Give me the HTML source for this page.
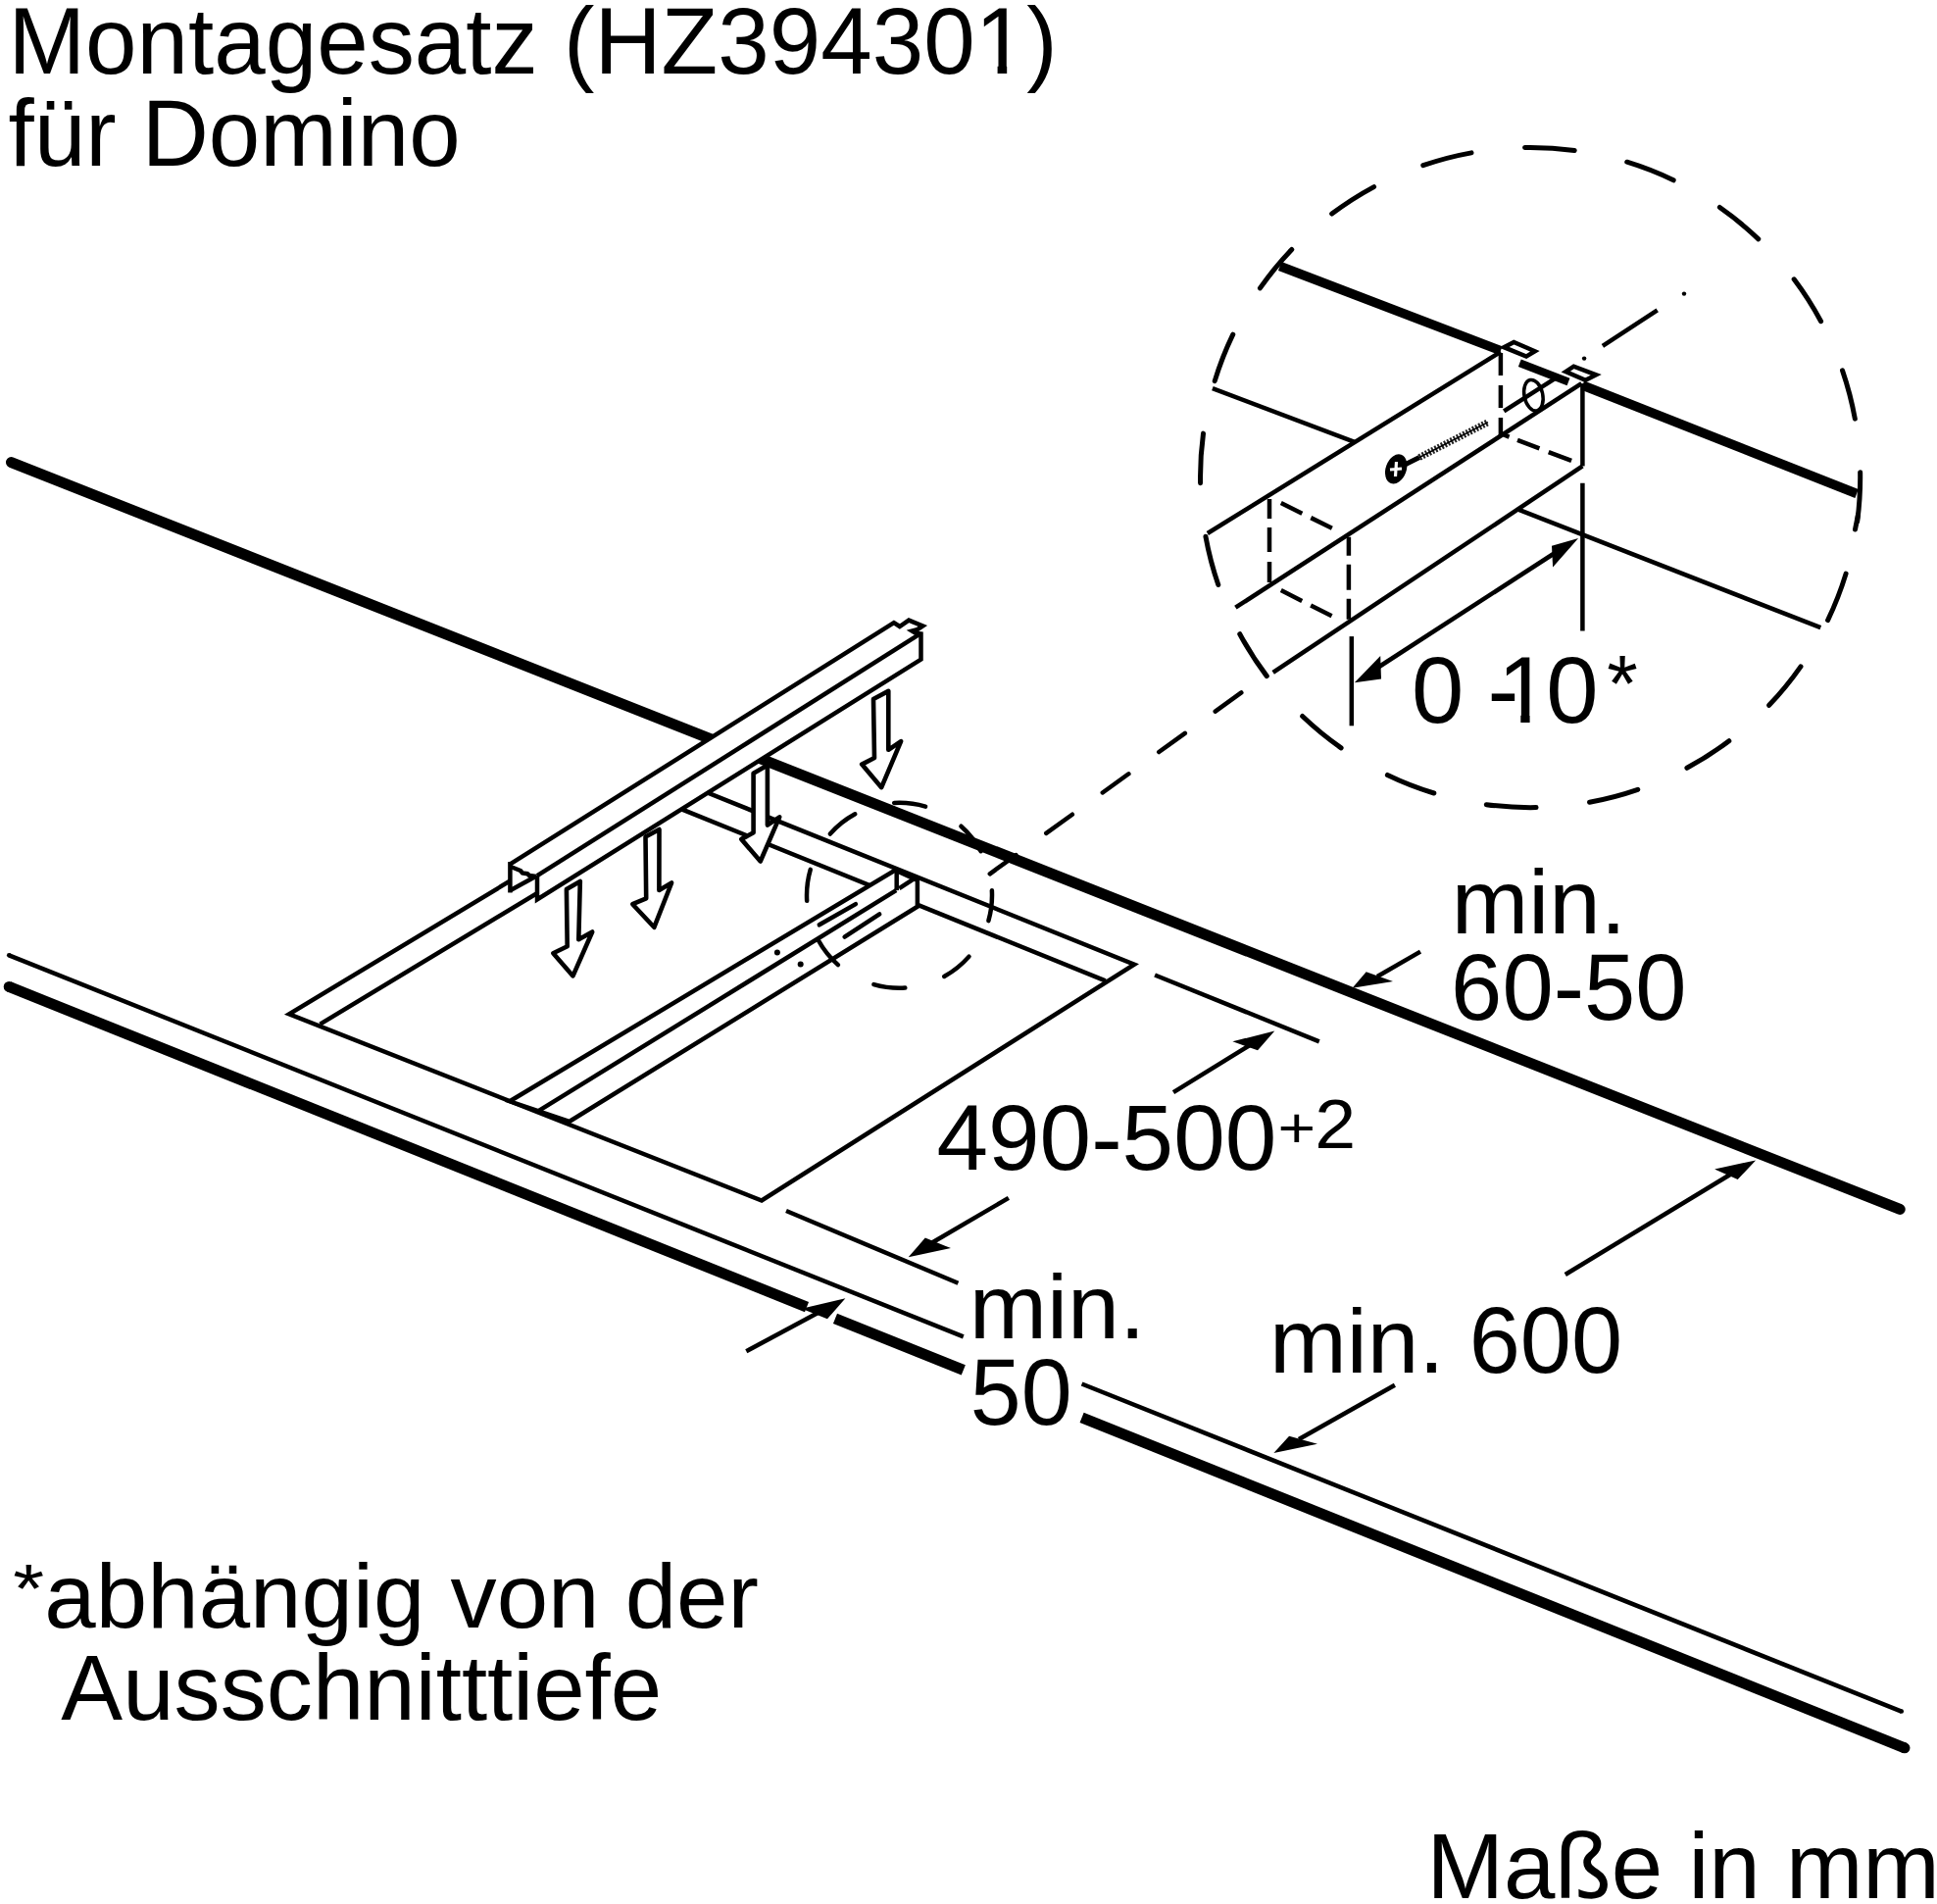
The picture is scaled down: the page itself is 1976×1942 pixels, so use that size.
<!DOCTYPE html>
<html><head><meta charset="utf-8"><style>
html,body{margin:0;padding:0;background:#fff;}
svg{display:block;}
</style></head><body><div id="wrap">
<svg width="1976" height="1942" viewBox="0 0 1976 1942" style="font-family:'Liberation Sans',sans-serif" stroke="#000" fill="none">
<g><rect x="0" y="0" width="1976" height="1942" fill="#fff" stroke="none"/>
<text transform="matrix(0.9832 0 0 1 8.40 74.76)" font-size="96" stroke="none" fill="#000">Montagesatz (HZ394301)</text>
<rect x="1000" y="66.2" width="17.6" height="10" fill="#fff" stroke="none"/><rect x="1027.2" y="66.2" width="17" height="10" fill="#fff" stroke="none"/>
<text transform="matrix(0.9824 0 0 1 8.49 169.30)" font-size="96" stroke="none" fill="#000">für Domino</text>
<text transform="matrix(1.0145 0 0 1 1480.67 951.90)" font-size="93" stroke="none" fill="#000">min.</text>
<text transform="matrix(0.9662 0 0 1 1480.10 1039.90)" font-size="97.3" stroke="none" fill="#000">60-50</text>
<text transform="matrix(1.1700 0 0 1 13.27 1645.10)" font-size="70" stroke="none" fill="#000">*</text>
<text transform="matrix(1.0085 0 0 1 45.36 1660.00)" font-size="93.5" stroke="none" fill="#000">abhängig von der</text>
<text transform="matrix(1.0027 0 0 1 62.33 1753.80)" font-size="94" stroke="none" fill="#000">Ausschnitttiefe</text>
<text transform="matrix(0.9917 0 0 1 1455.46 1935.50)" font-size="95" stroke="none" fill="#000">Maße in mm</text>
<text transform="matrix(1.0004 0 0 1 955.44 1193.30)" font-size="94.5" stroke="none" fill="#000">490-500</text>
<text transform="matrix(1.1400 0 0 1 1303.59 1170.40)" font-size="58" stroke="none" fill="#000">+</text>
<text transform="matrix(1.0600 0 0 1 1341.13 1171.20)" font-size="71.1" stroke="none" fill="#000">2</text>
<text transform="matrix(1.0232 0 0 1 988.71 1364.60)" font-size="93" stroke="none" fill="#000">min.</text>
<text transform="matrix(0.9672 0 0 1 989.87 1452.80)" font-size="96.5" stroke="none" fill="#000">50</text>
<text transform="matrix(1.0170 0 0 1 1294.95 1399.60)" font-size="93" stroke="none" fill="#000">min.</text>
<text transform="matrix(0.9707 0 0 1 1498.72 1399.60)" font-size="96.5" stroke="none" fill="#000">600</text>
<text transform="matrix(0.9900 0 0 1 1440.07 737.30)" font-size="96.8" stroke="none" fill="#000">0</text>
<text transform="matrix(0.9900 0 0 1 1517.59 737.30)" font-size="96.8" stroke="none" fill="#000">-</text>
<text transform="matrix(0.9900 0 0 1 1527.71 737.30)" font-size="96.8" stroke="none" fill="#000">1</text>
<text transform="matrix(0.9900 0 0 1 1577.37 737.30)" font-size="96.8" stroke="none" fill="#000">0</text>
<text transform="matrix(1.0000 0 0 1 1639.19 724.80)" font-size="81" stroke="none" fill="#000">*</text>
<rect x="1533" y="729" width="18.3" height="11" fill="#fff" stroke="none"/><rect x="1560.6" y="729" width="17" height="11" fill="#fff" stroke="none"/>
<line x1="11.5" y1="471.6" x2="1938.2" y2="1233.4" stroke-width="11" stroke-linecap="round"/>
<path d="M9.2,1006.4 L823,1333.1" fill="none" stroke-width="11" stroke-linecap="butt" stroke-linejoin="miter"/>
<line x1="9.2" y1="1006.4" x2="9.3" y2="1006.4" stroke-width="11" stroke-linecap="round"/>
<line x1="852" y1="1344.8" x2="982.8" y2="1397.3" stroke-width="11" stroke-linecap="butt"/>
<line x1="1103.6" y1="1445.8" x2="1943" y2="1782.8" stroke-width="11" stroke-linecap="butt"/>
<line x1="1942.9" y1="1782.8" x2="1943" y2="1782.8" stroke-width="11" stroke-linecap="round"/>
<line x1="9.2" y1="974.3" x2="982.8" y2="1363.3" stroke-width="4.5" stroke-linecap="butt"/>
<line x1="9.2" y1="974.3" x2="9.3" y2="974.3" stroke-width="4.5" stroke-linecap="round"/>
<line x1="1103.6" y1="1411.5" x2="1939.8" y2="1745.6" stroke-width="4.5" stroke-linecap="butt"/>
<line x1="1939.7" y1="1745.6" x2="1939.8" y2="1745.6" stroke-width="4.5" stroke-linecap="round"/>
<polyline points="690.6,796 295,1034.3 777,1224.5 1157.1,983.6 690.6,796" fill="none" stroke-width="4.5" stroke-linecap="butt" stroke-linejoin="miter"/>
<polyline points="326.5,1044.6 692.2,824.1 1127.7,1000.4" fill="none" stroke-width="4.5" stroke-linecap="butt" stroke-linejoin="miter"/>
<polygon points="520,1123.3 913.2,887.5 932.3,896.3 935.9,897.8 935.9,924.7 580.7,1144" fill="#fff" stroke-width="4.5" stroke-linecap="butt" stroke-linejoin="miter"/>
<line x1="548.5" y1="1133.7" x2="914.2" y2="908.1" stroke-width="4.5" stroke-linecap="butt"/>
<line x1="914.7" y1="887.5" x2="914.7" y2="908.1" stroke-width="4.5" stroke-linecap="butt"/>
<line x1="917.3" y1="906.1" x2="932.3" y2="896.3" stroke-width="4.5" stroke-linecap="butt"/>
<line x1="835.8" y1="943.3" x2="872.9" y2="922.1" stroke-width="4.5" stroke-linecap="round"/>
<line x1="861.6" y1="955.6" x2="897.2" y2="932.4" stroke-width="4.5" stroke-linecap="round"/>
<circle cx="792.9" cy="971.6" r="3" fill="#000" stroke="none"/>
<circle cx="816.7" cy="983.5" r="3" fill="#000" stroke="none"/>
<circle cx="917.5" cy="913.25" r="94.5" stroke-width="4.5" stroke-linecap="round" stroke-dasharray="32.5 41.725" stroke-dashoffset="6.2"/>
<line x1="1009.8" y1="891.3" x2="1270" y2="703.8" stroke-width="4.5" stroke-linecap="round" stroke-dasharray="32.8 38.05"/>
<polygon points="520.4,881.3 911.9,635.2 917.8,639 927.1,632.6 941.3,638.5 935.5,642.3 930.4,643.6 933.8,645.7 939.5,646.5 939.5,672.6 548,917.4 545.4,894.6 520.4,908.2" fill="#fff" stroke="none"/>
<polyline points="520.4,881.3 911.9,635.2 917.8,639 927.1,632.6 941.3,638.5 935.5,642.3 930.4,643.6 933.8,645.7 939.5,646.5 939.5,672.6 548,917.4 548,893.1" fill="none" stroke-width="4.5" stroke-linecap="butt" stroke-linejoin="miter"/>
<line x1="548" y1="893.1" x2="938" y2="646.9" stroke-width="4.5" stroke-linecap="butt"/>
<line x1="520.4" y1="881.3" x2="520.4" y2="908.2" stroke-width="4.5" stroke-linecap="square"/>
<polyline points="521,884 531,888 533,890.5 538,891.2 540,893 547.3,894" fill="none" stroke-width="4.5" stroke-linecap="butt" stroke-linejoin="miter"/>
<line x1="520.4" y1="908.2" x2="545.4" y2="894.6" stroke-width="4.5" stroke-linecap="butt"/>
<polygon points="577.9,907.1 591.8,899 590.3,958.2 604.2,950.5 584.5,995.4 564.3,972.2 578.7,965.2" fill="#fff" stroke-width="4.6" stroke-linecap="butt" stroke-linejoin="round"/>
<polygon points="658.5,853.6 672.5,846 672.4,907.9 685.1,900.5 667.3,945.8 645.3,922.2 659.2,916.4" fill="#fff" stroke-width="4.6" stroke-linecap="butt" stroke-linejoin="round"/>
<polygon points="768.6,788.8 782.9,780.6 782.9,841.6 795.2,833.4 775.7,878.5 756.3,855.9 768.6,849.3" fill="#fff" stroke-width="4.6" stroke-linecap="butt" stroke-linejoin="round"/>
<line x1="782.9" y1="774" x2="782.9" y2="781" stroke-width="4.6" stroke-linecap="butt"/>
<polygon points="891,713 906.3,704.9 906.3,764.8 919.1,756.1 899.2,803.2 879.2,779.6 892,773" fill="#fff" stroke-width="4.6" stroke-linecap="butt" stroke-linejoin="round"/>
<line x1="802" y1="1235" x2="977.4" y2="1308.8" stroke-width="4.5" stroke-linecap="butt"/>
<line x1="761.3" y1="1378.2" x2="840" y2="1336" stroke-width="4.5" stroke-linecap="butt"/>
<polygon points="862.4,1324.3 817.7,1334.8 844,1345.3" fill="#000" stroke="none"/>
<line x1="1028.9" y1="1221.9" x2="950" y2="1268" stroke-width="4.5" stroke-linecap="butt"/>
<polygon points="926.7,1282.3 943.8,1262.6 970,1273.1" fill="#000" stroke="none"/>
<line x1="1178.1" y1="994.5" x2="1345.8" y2="1062.3" stroke-width="4.5" stroke-linecap="butt"/>
<line x1="1197" y1="1114.2" x2="1275" y2="1066" stroke-width="4.5" stroke-linecap="butt"/>
<polygon points="1300.3,1051.5 1257.4,1062.3 1283,1071.3" fill="#000" stroke="none"/>
<line x1="1449" y1="970.6" x2="1405" y2="996" stroke-width="4.5" stroke-linecap="butt"/>
<polygon points="1379.6,1007.7 1393.7,991.2 1421,1001.1" fill="#000" stroke="none"/>
<line x1="1596.8" y1="1300" x2="1765" y2="1198" stroke-width="4.5" stroke-linecap="butt"/>
<polygon points="1791.1,1183.4 1749.1,1192.6 1772.7,1203.1" fill="#000" stroke="none"/>
<line x1="1422.9" y1="1412.7" x2="1325" y2="1468" stroke-width="4.5" stroke-linecap="butt"/>
<polygon points="1299.4,1481.9 1315.1,1464.8 1344,1472.7" fill="#000" stroke="none"/>
<circle cx="1561.1" cy="487.05" r="336.6" stroke-width="5" stroke-linecap="round" stroke-dasharray="51 54.74" stroke-dashoffset="6.2"/>
<line x1="1305.7" y1="271.5" x2="1530.9" y2="357.6" stroke-width="9.5" stroke-linecap="butt"/>
<line x1="1550.3" y1="370.3" x2="1600" y2="389.5" stroke-width="8" stroke-linecap="butt"/>
<line x1="1614.4" y1="393" x2="1894.1" y2="503.5" stroke-width="9.5" stroke-linecap="butt"/>
<polygon points="1534.2,354.2 1544.3,348.9 1565.8,358.3 1557,363.6" fill="#fff" stroke-width="4.5" stroke-linecap="butt" stroke-linejoin="miter"/>
<polygon points="1597.3,379.1 1605.4,373.7 1628.2,382.4 1617.4,387.8" fill="#fff" stroke-width="4.5" stroke-linecap="butt" stroke-linejoin="miter"/>
<line x1="1236.9" y1="396.2" x2="1381.9" y2="450.8" stroke-width="4.5" stroke-linecap="butt"/>
<line x1="1549.4" y1="519.9" x2="1857.3" y2="640.2" stroke-width="4.5" stroke-linecap="butt"/>
<line x1="1231.8" y1="544" x2="1530.9" y2="358.9" stroke-width="4.5" stroke-linecap="butt"/>
<line x1="1260.4" y1="619.7" x2="1613.4" y2="391.1" stroke-width="4.5" stroke-linecap="butt"/>
<line x1="1298.7" y1="685.9" x2="1614.4" y2="475.4" stroke-width="4.5" stroke-linecap="butt"/>
<line x1="1614.4" y1="391.1" x2="1614.4" y2="475.4" stroke-width="4.5" stroke-linecap="butt"/>
<line x1="1530.9" y1="360" x2="1530.9" y2="444.2" stroke-width="4.5" stroke-linecap="butt" stroke-dasharray="23 10"/>
<line x1="1534" y1="443.5" x2="1614.4" y2="474.3" stroke-width="4.5" stroke-linecap="butt" stroke-dasharray="6 9 24 10 25 30"/>
<line x1="1295" y1="509" x2="1295" y2="597.6" stroke-width="4.5" stroke-linecap="butt" stroke-dasharray="20 9 25 10 21 30"/>
<line x1="1306.8" y1="513.1" x2="1362" y2="540.3" stroke-width="4.5" stroke-linecap="butt" stroke-dasharray="24 10 24 30"/>
<line x1="1375.9" y1="547.7" x2="1375.9" y2="632.9" stroke-width="4.5" stroke-linecap="butt" stroke-dasharray="19 9 26 9 21 30"/>
<line x1="1306.8" y1="602.1" x2="1362" y2="630" stroke-width="4.5" stroke-linecap="butt" stroke-dasharray="24 10 24 30"/>
<ellipse cx="1564.4" cy="403.2" rx="9.4" ry="16" transform="rotate(-12 1564.4 403.2)" stroke-width="3.5"/>
<line x1="1534.2" y1="419.3" x2="1586.6" y2="385.8" stroke-width="4.5" stroke-linecap="butt"/>
<circle cx="1616.1" cy="365.6" r="2.2" fill="#000" stroke="none"/>
<line x1="1634.9" y1="352.9" x2="1690.7" y2="316.4" stroke-width="4.5" stroke-linecap="butt"/>
<circle cx="1718" cy="299.6" r="2.2" fill="#000" stroke="none"/>
<ellipse cx="1424.2" cy="478.4" rx="10.5" ry="15.5" transform="rotate(20 1424.2 478.4)" fill="#000" stroke="none"/>
<path d="M1418,479 L1430,478 M1424.5,471 L1423.5,486" fill="none" stroke-width="3.2" stroke="#fff" stroke-linecap="butt" stroke-linejoin="miter"/>
<line x1="1434" y1="473.5" x2="1448" y2="466.5" stroke-width="5" stroke-linecap="butt"/>
<line x1="1448" y1="466.5" x2="1518" y2="430.7" stroke-width="7" stroke-linecap="butt" stroke-dasharray="2 1.6" stroke="#222"/>
<line x1="1448" y1="466.5" x2="1518" y2="430.7" stroke-width="1.5" stroke-linecap="butt"/>
<line x1="1614.4" y1="492.7" x2="1614.4" y2="643.4" stroke-width="4.5" stroke-linecap="butt"/>
<line x1="1378.8" y1="649.1" x2="1378.8" y2="740.3" stroke-width="4.5" stroke-linecap="butt"/>
<line x1="1400" y1="684.5" x2="1590" y2="561.5" stroke-width="4.5" stroke-linecap="butt"/>
<polygon points="1381.8,696.2 1408.2,669 1409,692.5" fill="#000" stroke="none"/>
<polygon points="1610.1,549.1 1583,556.7 1584.1,578.4" fill="#000" stroke="none"/>
<line x1="1895.5" y1="525" x2="1892.5" y2="540" stroke-width="5" stroke-linecap="round"/>
</g></svg></div>
</body></html>
